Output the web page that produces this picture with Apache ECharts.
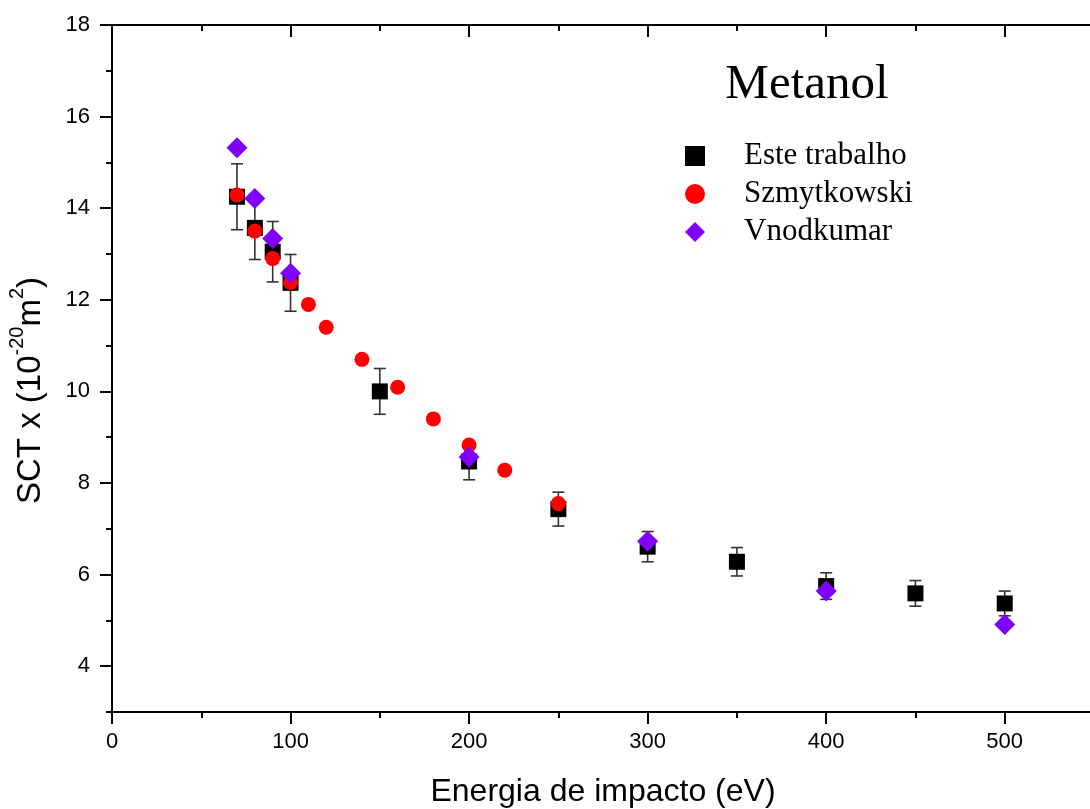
<!DOCTYPE html>
<html>
<head>
<meta charset="utf-8">
<script src="https://cdn.jsdelivr.net/npm/echarts@6/dist/echarts.min.js"></script>
<style>
  html, body { margin: 0; padding: 0; background: #fff; }
  #chart { width: 1090px; height: 809px; }
</style>
</head>
<body>
<div id="chart"></div>
<script>
// Total cross section of methanol versus impact energy
const xMajorTicks = [0, 100, 200, 300, 400, 500];
const xMinorTicks = [50, 150, 250, 350, 450];
const yMajorTicks = [4, 6, 8, 10, 12, 14, 16, 18];
const yMinorTicks = [3, 5, 7, 9, 11, 13, 15, 17];

// Este trabalho: energy (eV), SCT, uncertainty
const esteEnergy = [70, 80, 90, 100, 150, 200, 250, 300, 350, 400, 450, 500];
const esteSct    = [14.25, 13.57, 13.05, 12.37, 10.0, 8.47, 7.43, 6.61, 6.28, 5.75, 5.59, 5.37];
const esteErr    = [0.72, 0.69, 0.66, 0.62, 0.50, 0.40, 0.37, 0.33, 0.31, 0.29, 0.28, 0.27];

// Szmytkowski
const szmEnergy = [70, 80, 90, 100, 110, 120, 140, 160, 180, 200, 220, 250];
const szmSct    = [14.29, 13.50, 12.90, 12.38, 11.90, 11.40, 10.70, 10.09, 9.40, 8.83, 8.28, 7.55];

// Vnodkumar
const vnoEnergy = [70, 80, 90, 100, 200, 300, 400, 500];
const vnoSct    = [15.32, 14.21, 13.34, 12.58, 8.57, 6.73, 5.64, 4.91];

const pairs = (xs, ys) => xs.map((x, i) => [x, ys[i]]);
const errData = esteEnergy.map((x, i) => [x, esteSct[i] - esteErr[i], esteSct[i] + esteErr[i]]);

const sans = 'Liberation Sans, Arial, sans-serif';
const serif = 'Liberation Serif, Times New Roman, serif';
const lineStyle = { color: '#000', width: 2 };

function tickAxis(position, values, length, inside, extra) {
  return Object.assign({
    type: 'value', position: position, offset: 0,
    axisLine: { show: false },
    axisTick: { show: true, inside: inside, length: length, lineStyle: lineStyle, customValues: values },
    axisLabel: { show: false },
    splitLine: { show: false }
  }, extra || {});
}

const chart = echarts.init(document.getElementById('chart'), null, { renderer: 'canvas' });

chart.setOption({
  backgroundColor: '#fff',
  animation: false,
  title: {
    text: 'Metanol',
    left: 802, top: 56, textAlign: 'center',
    textStyle: { fontFamily: serif, fontSize: 49, fontWeight: 'normal', color: '#000' }
  },
  legend: {
    orient: 'vertical',
    left: 680, top: 134,
    itemWidth: 20, itemHeight: 20, itemGap: 4,
    data: ['Este trabalho', 'Szmytkowski', 'Vnodkumar'],
    textStyle: { fontFamily: serif, fontSize: 31, color: '#000', lineHeight: 34, padding: [0, 0, 0, 34] }
  },
  // the right frame line sits just past the canvas edge, so no auto-fitting
  grid: { left: 112, top: 25, width: 982, height: 687, containLabel: false, outerBoundsMode: 'none' },
  xAxis: [
    {
      type: 'value', position: 'bottom', min: 0, max: 550, offset: 0,
      axisLine: { show: true, lineStyle: lineStyle },
      axisTick: { show: true, inside: false, length: 12, lineStyle: lineStyle, customValues: xMajorTicks },
      axisLabel: { show: true, customValues: xMajorTicks, fontFamily: sans, fontSize: 22, color: '#000', margin: 19 },
      splitLine: { show: false },
      name: 'Energia de impacto (eV)',
      nameLocation: 'middle', nameGap: 64,
      nameTextStyle: { fontFamily: sans, fontSize: 32, color: '#000' }
    },
    tickAxis('bottom', xMinorTicks, 6, false, { min: 0, max: 550 }),
    Object.assign(tickAxis('top', xMajorTicks, 12, true, { min: 0, max: 550 }), {
      axisLine: { show: true, lineStyle: lineStyle }
    }),
    tickAxis('top', xMinorTicks, 6, true, { min: 0, max: 550 })
  ],
  yAxis: [
    {
      type: 'value', position: 'left', min: 3, max: 18, offset: 0,
      axisLine: { show: true, lineStyle: lineStyle },
      axisTick: { show: true, inside: false, length: 12, lineStyle: lineStyle, customValues: yMajorTicks },
      axisLabel: { show: true, customValues: yMajorTicks, fontFamily: sans, fontSize: 22, color: '#000', margin: 22 },
      splitLine: { show: false },
      name: '{a|SCT x (10}{s|-20}{a|m}{s|2}{a|)}',
      nameLocation: 'middle', nameGap: 65, nameRotate: 90,
      nameTextStyle: {
        padding: [0, 44, 0, 0],
        rich: {
          a: { fontFamily: sans, fontSize: 33, color: '#000', lineHeight: 40, verticalAlign: 'bottom' },
          s: { fontFamily: sans, fontSize: 20, color: '#000', lineHeight: 20, verticalAlign: 'top' }
        }
      }
    },
    tickAxis('left', yMinorTicks, 6, false, { min: 3, max: 18 }),
    Object.assign(tickAxis('right', yMajorTicks, 9, true, { min: 3, max: 18 }), {
      axisLine: { show: true, lineStyle: lineStyle }
    }),
    tickAxis('right', yMinorTicks, 4, true, { min: 3, max: 18 })
  ],
  series: [
    {
      name: 'erro',
      type: 'custom',
      xAxisIndex: 0, yAxisIndex: 0,
      data: errData,
      z: 1,
      renderItem: function (params, api) {
        const lo = api.coord([api.value(0), api.value(1)]);
        const hi = api.coord([api.value(0), api.value(2)]);
        const half = 6;
        const style = { stroke: '#333', lineWidth: 1.6 };
        return {
          type: 'group',
          children: [
            { type: 'line', shape: { x1: lo[0], y1: lo[1], x2: hi[0], y2: hi[1] }, style: style },
            { type: 'line', shape: { x1: lo[0] - half, y1: lo[1], x2: lo[0] + half, y2: lo[1] }, style: style },
            { type: 'line', shape: { x1: hi[0] - half, y1: hi[1], x2: hi[0] + half, y2: hi[1] }, style: style }
          ]
        };
      }
    },
    {
      name: 'Este trabalho',
      type: 'scatter',
      xAxisIndex: 0, yAxisIndex: 0,
      data: pairs(esteEnergy, esteSct),
      symbol: 'rect', symbolSize: 16,
      itemStyle: { color: '#000', opacity: 1 },
      z: 2
    },
    {
      name: 'Szmytkowski',
      type: 'scatter',
      xAxisIndex: 0, yAxisIndex: 0,
      data: pairs(szmEnergy, szmSct),
      symbol: 'circle', symbolSize: 15,
      itemStyle: { color: '#ff0000', opacity: 1 },
      z: 3
    },
    {
      name: 'Vnodkumar',
      type: 'scatter',
      xAxisIndex: 0, yAxisIndex: 0,
      data: pairs(vnoEnergy, vnoSct),
      symbol: 'diamond', symbolSize: 21,
      itemStyle: { color: '#8000ff', opacity: 1 },
      z: 4
    }
  ]
});
</script>
</body>
</html>
